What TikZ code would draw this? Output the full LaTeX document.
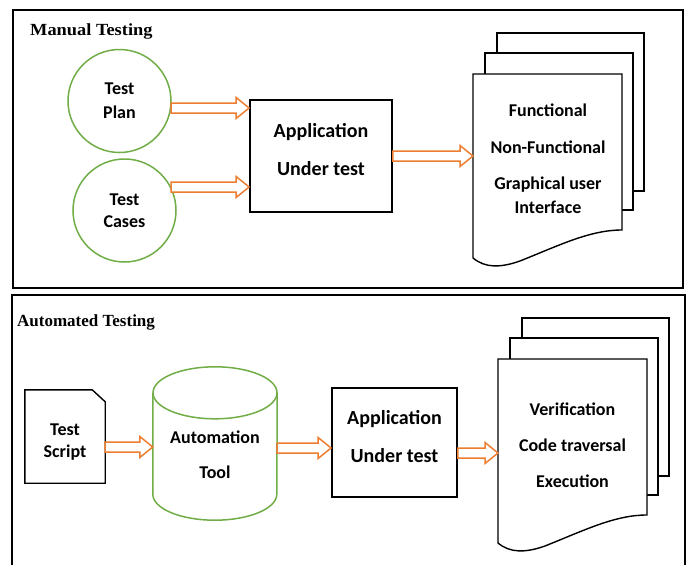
\documentclass[tikz,border=0pt]{standalone}
\usepackage{fontspec}
\setsansfont{Carlito}
\newfontfamily\titlefont{Liberation Serif}
\usetikzlibrary{calc}
\definecolor{toolgreen}{RGB}{112,173,71}
\definecolor{floworange}{RGB}{237,125,49}
\tikzset{
    panel/.style = {
        draw,
        line width=2pt,
        },
    panel title/.style = {
        font=\titlefont\bfseries\fontsize{17}{20}\selectfont,
        anchor=base west,
        inner sep=0pt,
        },
    label text/.style = {
        font=\sffamily\bfseries\fontsize{18}{24}\selectfont,
        align=center,
        },
    big text/.style = {
        label text,
        font=\sffamily\bfseries\fontsize{20}{24}\selectfont,
        },
    input/.style = {
        label text,
        draw=toolgreen,
        line width=1.5pt,
        circle,
        minimum size=103pt,
        inner sep=0pt,
        },
    aut/.style = {
        draw,
        line width=1.8pt,
        },
    page/.style = {
        draw,
        line width=1.4pt,
        },
    tool line/.style = {
        draw=toolgreen,
        line width=1.5pt,
        },
    flow/.style = {
        draw=floworange,
        line width=1.5pt,
        fill=white,
        to path={let \p1=(\tikztostart), \p2=(\tikztotarget) in
            (\x1,\y2+5pt) -- (\x2-13pt,\y2+5pt) -- (\x2-13pt,\y2+10.5pt) -- (\x2,\y2)
            -- (\x2-13pt,\y2-10.5pt) -- (\x2-13pt,\y2-5pt) -- (\x1,\y2-5pt) -- cycle},
        },
}

\begin{document}
\begin{tikzpicture}[x=1pt, y=-1pt]
    \useasboundingbox (0,0) rectangle (689,565);
    \clip (0,0) rectangle (689,565);

    \draw[panel] (13,10) rectangle (683,288);
    \draw[panel] (12,295) rectangle (685,590);
    \node[panel title, xscale=1.08] (mtitle) at (30,35) {Manual Testing};
    \node[panel title] (atitle) at (17,326) {Automated Testing};

    % document stacks
    \foreach \sx/\sy in {473/74, 498/359} {
        \begin{scope}[shift={(\sx,\sy)}]
            \draw[page] (24,-21) -- (24,-41) -- (171,-41) -- (171,117) -- (160,117);
            \draw[page] (12,0) -- (12,-21) -- (160,-21) -- (160,136) -- (149,136);
            \draw[page, fill=white] (0,0) -- (149,0) -- (149,156)
                .. controls (117,156) and (87,171) .. (47,187)
                .. controls (27,194) and (12,194) .. (0,184) -- cycle;
        \end{scope}
    }

    % manual testing
    \node[input] (plan) at (119.5,101) {Test\\Plan};
    \node[input] (cases) at (124.5,210.5) {Test\\[-2pt]Cases};
    \node[aut, minimum width=142pt, minimum height=112pt,
        label={[big text, yshift=6pt]center:Application\\[14pt]Under test}] (mapp) at (321,156) {};
    \node[label text] (mdoc) at (548,159) {Functional\\[13pt]Non-Functional\\[12pt]Graphical user\\Interface};
    \coordinate (mdocin) at (473,156);

    \draw[flow] (plan.-8) to ([yshift=48pt]mapp.west);
    \draw[flow] (cases.27) to ([yshift=-31pt]mapp.west);
    \draw[flow] (mapp.east) to (mdocin);

    % automated testing
    \node[minimum width=80pt, minimum height=93pt,
        label={[label text, yshift=-6pt]center:Test\\[-2pt]Script}] (script) at (65,436.5) {};
    \draw[page] (script.north west) -- ([xshift=-13pt]script.north east) -- ([yshift=-12pt]script.north east)
        -- (script.south east) -- (script.south west) -- cycle;

    \node[minimum width=124pt, minimum height=153pt] (tool) at (215,443.5) {};
    \draw[tool line] ($(tool.north)+(0,26)$) ellipse [x radius=62pt, y radius=26pt];
    \draw[tool line] ($(tool.north west)+(0,26)$) -- ($(tool.south west)+(0,-26)$)
        arc [start angle=180, end angle=360, x radius=62pt, y radius=26pt] -- ($(tool.north east)+(0,26)$);
    \node[label text] (tooltext) at (215,454.5) {Automation\\[11pt]Tool};

    \node[aut, minimum width=125pt, minimum height=109pt,
        label={[big text, yshift=6pt]center:Application\\[14pt]Under test}] (uapp) at (394.5,442.5) {};
    \node[label text] (adoc) at (572.5,445) {Verification\\[12pt]Code traversal\\[12pt]Execution};
    \coordinate (adocin) at (498,453);

    \draw[flow] (script.east) to ([yshift=-3.5pt]tool.west);
    \draw[flow] (tool.east) to ([yshift=-5.5pt]uapp.west);
    \draw[flow] (uapp.east) to (adocin);
\end{tikzpicture}
\end{document}
